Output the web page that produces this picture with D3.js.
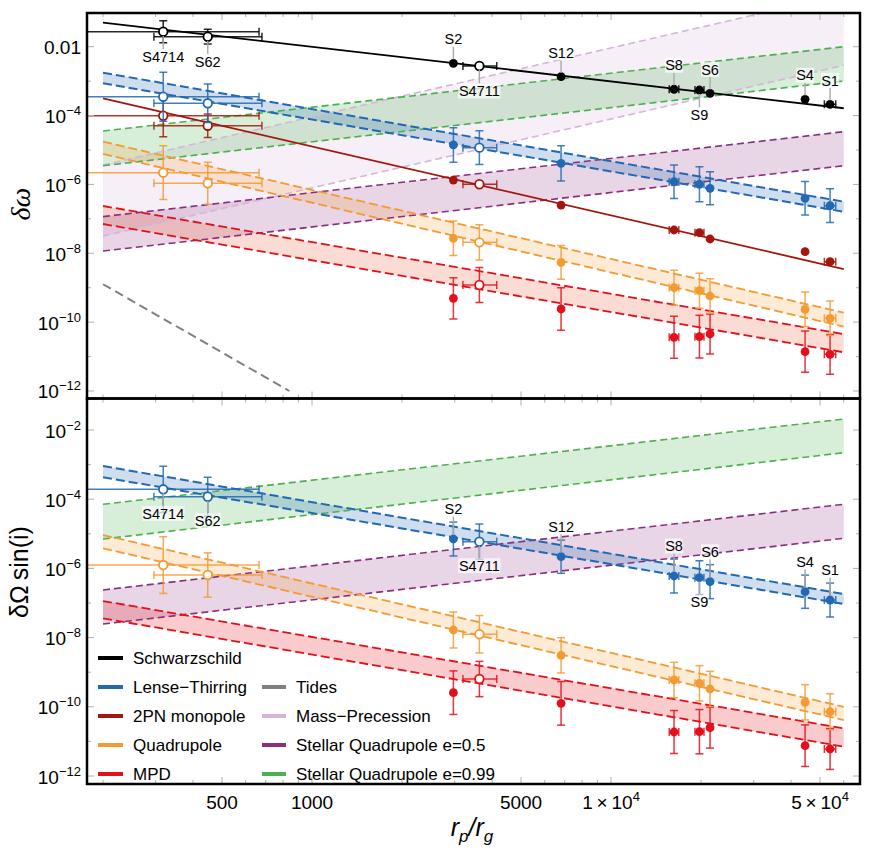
<!DOCTYPE html>
<html><head><meta charset="utf-8">
<script src="https://cdn.jsdelivr.net/npm/d3@7"></script>
<style>body{margin:0;background:#fff}svg{display:block;font-family:"Liberation Sans",Arial,sans-serif}</style>
</head><body><svg id="c" width="872" height="855"></svg>
<script>
// ---------------- DATA ----------------
const stars = ["S4714","S62","S2","S4711","S12","S8","S9","S6","S4","S1"];
const rp    = [318, 448, 2970, 3628, 6805, 16240, 19750, 21430, 44550, 54000];
const rpLo  = [100, 296, null, 3196, null, 15650, 19080, null, null, 51680];
const rpHi  = [665, 680, null, 4147, null, 16850, 20450, null, null, 56420];
const hollow = [true, true, false, true, false, false, false, false, false, false];
const labelBelow = [true, true, false, true, false, false, true, false, false, false];

// top panel (delta omega) points, error = half-width in dex
const schwTop    = [2.73e-2, 1.95e-2, 3.30e-3, 2.75e-3, 1.35e-3, 5.80e-4, 5.52e-4, 4.43e-4, 2.97e-4, 2.12e-4];
const schwTopErr = [0.32, 0.215, 0, 0, 0, 0, 0, 0, 0, 0];
const ltTop      = [3.53e-4, 2.27e-4, 1.40e-5, 1.17e-5, 4.10e-6, 1.20e-6, 1.01e-6, 7.71e-7, 3.95e-7, 2.41e-7];
const ltTopErr   = [0.71, 0.56, 0.50, 0.49, 0.51, 0.485, 0.51, 0.48, 0.485, 0.49];
const pn2Top     = [9.9e-5, 5.07e-5, 1.34e-6, 1.01e-6, 2.52e-7, 4.74e-8, 3.96e-8, 2.60e-8, 1.11e-8, 5.7e-9];
const pn2TopErr  = [0.61, 0.34, 0, 0, 0, 0, 0, 0, 0, 0];
const quadTop    = [2.19e-6, 1.08e-6, 2.72e-8, 2.08e-8, 5.47e-9, 1.0e-9, 8.18e-10, 5.74e-10, 2.36e-10, 1.29e-10];
const quadTopErr = [0.78, 0.61, 0.50, 0.51, 0.49, 0.51, 0.51, 0.50, 0.50, 0.50];
const mpdTop     = [null, null, 4.92e-10, 1.20e-9, 2.41e-10, 3.63e-11, 3.78e-11, 4.53e-11, 1.39e-11, 1.16e-11];
const mpdTopErr  = [0, 0, 0.60, 0.51, 0.62, 0.61, 0.62, 0.58, 0.60, 0.58];

// bottom panel (delta Omega sin i) points
const ltBot      = [1.93e-4, 1.18e-4, 7.08e-6, 5.92e-6, 2.18e-6, 6.03e-7, 5.38e-7, 4.13e-7, 2.12e-7, 1.22e-7];
const ltBotErr   = [0.67, 0.56, 0.49, 0.51, 0.48, 0.49, 0.49, 0.49, 0.48, 0.49];
const quadBot    = [1.25e-6, 6.44e-7, 1.66e-8, 1.25e-8, 3.08e-9, 5.96e-10, 4.78e-10, 3.27e-10, 1.35e-10, 7.2e-11];
const quadBotErr = [0.82, 0.64, 0.52, 0.54, 0.51, 0.51, 0.51, 0.51, 0.51, 0.52];
const mpdBot     = [null, null, 2.56e-10, 6.36e-10, 1.26e-10, 1.87e-11, 1.91e-11, 2.49e-11, 7.52e-12, 6.03e-12];
const mpdBotErr  = [0, 0, 0.63, 0.51, 0.63, 0.62, 0.64, 0.59, 0.60, 0.59];

// model lines / bands (values at r_p/r_g = bandX)
const bandX = [200, 60000];
const schwLine = [0.0498, 1.63e-4];
const pn2Line  = [3.17e-4, 3.49e-9];
const ltTopHi = [1.76e-3, 3.15e-7],   ltTopLo = [8.65e-4, 1.61e-7];
const quadTopHi = [1.74e-5, 1.88e-10], quadTopLo = [7.65e-6, 7.4e-11];
const mpdTopHi = [2.36e-7, 4.5e-11],  mpdTopLo = [7.08e-8, 1.33e-11];
const massPrecHi = [3.65e-6, 0.333],  massPrecLo = [3.16e-8, 2.88e-3];
const sq05TopHi = [1.16e-7, 3.4e-5],  sq05TopLo = [1.16e-8, 3.5e-6];
const sq99TopHi = [3.56e-5, 1.0e-2],  sq99TopLo = [3.5e-6, 1.01e-3];
const tidesX = [200, 840], tidesY = [1.26e-9, 1.0e-12];

const ltBotHi = [9.12e-4, 1.82e-7],   ltBotLo = [4.30e-4, 9.35e-8];
const sq99BotHi = [7.13e-5, 2.08e-2], sq99BotLo = [7.08e-6, 2.21e-3];
const quadBotHi = [9.23e-6, 1.0e-10], quadBotLo = [3.81e-6, 4.15e-11];
const mpdBotHi = [1.14e-7, 2.39e-11], mpdBotLo = [3.61e-8, 7.03e-12];
const sq05BotHi = [2.38e-7, 7.13e-5], sq05BotLo = [2.47e-8, 7.41e-6];

const xTickVals = [500, 1000, 5000, 10000, 50000];
const xTickText = [["500"], ["1000"], ["5000"], ["1\u2009\u00d7\u200910", "4"], ["5\u2009\u00d7\u200910", "4"]];
const legendNames1 = ["Schwarzschild", "Lense\u2212Thirring", "2PN monopole", "Quadrupole", "MPD"];
const legendNames2 = ["Tides", "Mass\u2212Precession", "Stellar Quadrupole e=0.5", "Stellar Quadrupole e=0.99"];

// ---------------- STYLE ----------------
const C = {black:"#000000", blue:"#2268b3", dred:"#a3160d", orange:"#f39a32", red:"#e3101b",
  purple:"#8c2e7e", green:"#4bb04d", lav:"#d6b5da", gray:"#808080"};
const legendColors1 = [C.black, C.blue, C.dred, C.orange, C.red];
const legendColors2 = [C.gray, C.lav, C.purple, C.green];

const L = 87, R = 860, T1 = 13, B1 = 398.5, T2 = 398.5, B2 = 784;
const svg = d3.select("#c");
const x = d3.scaleLog().domain([176.8, 68000]).range([L, R]);
const yTop = d3.scaleLog().domain([Math.pow(10,-12.218), Math.pow(10,-1.0212)]).range([B1, T1]);
const yBot = d3.scaleLog().domain([Math.pow(10,-12.231), Math.pow(10,-1.0896)]).range([B2, T2]);

const defs = svg.append("defs");
[["clipT",T1,B1],["clipB",T2,B2]].forEach(([id,t,b])=>{
  defs.append("clipPath").attr("id",id).append("rect").attr("x",L).attr("y",t).attr("width",R-L).attr("height",b-t);
});

function panel(clipId){ return svg.append("g").attr("clip-path",`url(#${clipId})`); }

function band(g, y, hi, lo, color, fillColor, op, dash, sw){
  const pts = bandX.map((v,i)=>({x:v, hi:hi[i], lo:lo[i]}));
  g.append("path").datum(pts)
    .attr("d", d3.area().x(d=>x(d.x)).y0(d=>y(d.lo)).y1(d=>y(d.hi)))
    .attr("fill", fillColor).attr("fill-opacity", op).attr("stroke","none");
  return ()=>{
    [hi,lo].forEach(arr=>{
      g.append("path").datum(bandX.map((v,i)=>[v,arr[i]]))
        .attr("d", d3.line().x(d=>x(d[0])).y(d=>y(d[1])))
        .attr("fill","none").attr("stroke",color).attr("stroke-width",sw).attr("stroke-dasharray",dash);
    });
  };
}
function solid(g, y, xs, ys, color, sw, dash){
  g.append("path").datum(xs.map((v,i)=>[v,ys[i]]))
    .attr("d", d3.line().x(d=>x(d[0])).y(d=>y(d[1])))
    .attr("fill","none").attr("stroke",color).attr("stroke-width",sw)
    .attr("stroke-dasharray", dash||null);
}
function series(g, y, vals, errs, color){
  const cap = 4;
  stars.forEach((s,i)=>{
    const v = vals[i]; if (v == null) return;
    const cx = x(rp[i]), cy = y(v);
    const eg = g.append("g").attr("stroke",color).attr("stroke-width",1.5).attr("stroke-opacity",0.85);
    if (errs[i] > 0){
      const y1 = y(v*Math.pow(10,errs[i])), y2 = y(v/Math.pow(10,errs[i]));
      eg.append("line").attr("x1",cx).attr("x2",cx).attr("y1",y1).attr("y2",y2);
      [y1,y2].forEach(yy=>eg.append("line").attr("x1",cx-cap).attr("x2",cx+cap).attr("y1",yy).attr("y2",yy));
    }
    if (rpLo[i] != null){
      const x1 = x(rpLo[i]), x2 = x(rpHi[i]);
      eg.append("line").attr("x1",x1).attr("x2",x2).attr("y1",cy).attr("y2",cy);
      [x1,x2].forEach(xx=>eg.append("line").attr("x1",xx).attr("x2",xx).attr("y1",cy-cap).attr("y2",cy+cap));
    }
  });
  stars.forEach((s,i)=>{
    const v = vals[i]; if (v == null) return;
    const c = g.append("circle").attr("cx",x(rp[i])).attr("cy",y(v));
    if (hollow[i]) c.attr("r",4.3).attr("fill","#fff").attr("stroke",color).attr("stroke-width",1.8);
    else c.attr("r",4.4).attr("fill",color);
  });
}
function labels(g, y, vals, upOff, downOff){
  stars.forEach((s,i)=>{
    const cx = x(rp[i]), cy = y(vals[i]);
    const below = labelBelow[i];
    const ly = below ? cy + downOff : cy + upOff;
    const tw = s.length*8.1 + 2, th = 15;
    g.append("line").attr("x1",cx).attr("x2",cx)
      .attr("y1", below ? cy+4 : cy-4).attr("y2", below ? ly-th/2 : ly+th/2)
      .attr("stroke","#aaa").attr("stroke-width",1.4);
    g.append("rect").attr("x",cx-tw/2).attr("y",ly-th/2).attr("width",tw).attr("height",th)
      .attr("fill","#fff").attr("fill-opacity",0.65);
    g.append("text").attr("x",cx).attr("y",ly+5.2).attr("text-anchor","middle")
      .attr("font-size",14.5).attr("fill","#000").text(s);
  });
}

// ---------------- TOP PANEL ----------------
const gT = panel("clipT");
const lT = [];
lT.push(band(gT, yTop, massPrecHi, massPrecLo, C.lav, C.lav, 0.22, "7,4", 1.6));
lT.push(band(gT, yTop, sq99TopHi, sq99TopLo, C.green, C.green, 0.22, "7,4", 1.6));
lT.push(band(gT, yTop, sq05TopHi, sq05TopLo, C.purple, C.purple, 0.2, "7,4", 1.6));
lT.push(band(gT, yTop, ltTopHi, ltTopLo, C.blue, C.blue, 0.22, "9,4", 2));
lT.push(band(gT, yTop, quadTopHi, quadTopLo, C.orange, C.orange, 0.2, "9,4", 1.8));
lT.push(band(gT, yTop, mpdTopHi, mpdTopLo, C.red, "#e8603c", 0.22, "9,4", 1.8));
lT.forEach(f=>f());
solid(gT, yTop, tidesX, tidesY, C.gray, 2, "9,5");
solid(gT, yTop, bandX, schwLine, C.black, 1.8);
solid(gT, yTop, bandX, pn2Line, C.dred, 1.8);
series(gT, yTop, mpdTop, mpdTopErr, C.red);
series(gT, yTop, quadTop, quadTopErr, C.orange);
series(gT, yTop, pn2Top, pn2TopErr, C.dred);
series(gT, yTop, ltTop, ltTopErr, C.blue);
series(gT, yTop, schwTop, schwTopErr, C.black);
labels(svg.append("g"), yTop, schwTop, -24, 25);

// ---------------- BOTTOM PANEL ----------------
const gB = panel("clipB");
const lB = [];
lB.push(band(gB, yBot, sq99BotHi, sq99BotLo, C.green, C.green, 0.22, "7,4", 1.6));
lB.push(band(gB, yBot, sq05BotHi, sq05BotLo, C.purple, C.purple, 0.2, "7,4", 1.6));
lB.push(band(gB, yBot, ltBotHi, ltBotLo, C.blue, C.blue, 0.22, "9,4", 2));
lB.push(band(gB, yBot, quadBotHi, quadBotLo, C.orange, C.orange, 0.2, "9,4", 1.8));
lB.push(band(gB, yBot, mpdBotHi, mpdBotLo, C.red, C.red, 0.22, "9,4", 1.8));
lB.forEach(f=>f());
series(gB, yBot, mpdBot, mpdBotErr, C.red);
series(gB, yBot, quadBot, quadBotErr, C.orange);
series(gB, yBot, ltBot, ltBotErr, C.blue);
labels(svg.append("g"), yBot, ltBot, -30, 24);

// ---------------- AXES / TICKS ----------------
const tickG = svg.append("g").attr("stroke","#b0b0b0").attr("stroke-width",1);
const xMinor = [];
[100,1000,10000].forEach(d=>{ for(let k=1;k<10;k++){ const v=d*k; if(v>=x.domain()[0] && v<=x.domain()[1]) xMinor.push(v);} });
[[T1,B1],[T2,B2]].forEach(([t,b])=>{
  xMinor.forEach(v=>{
    const len = xTickVals.includes(v) ? 7 : 4;
    const px = x(v);
    tickG.append("line").attr("x1",px).attr("x2",px).attr("y1",b).attr("y2",b-len);
    tickG.append("line").attr("x1",px).attr("x2",px).attr("y1",t).attr("y2",t+len);
  });
});
[[yTop],[yBot]].forEach(([y])=>{
  for(let e=-12;e<=-2;e++){
    const len = (e%2===0) ? 7 : 4;
    const py = y(Math.pow(10,e));
    tickG.append("line").attr("x1",L).attr("x2",L+len).attr("y1",py).attr("y2",py);
    tickG.append("line").attr("x1",R).attr("x2",R-len).attr("y1",py).attr("y2",py);
  }
});
function yLab(y, e, plainDecimal){
  const t = svg.append("text").attr("x",81).attr("y",y(Math.pow(10,e))+7.5)
    .attr("text-anchor","end").attr("font-size",19).attr("fill","#000");
  if (plainDecimal) { t.text("0.01"); return; }
  t.append("tspan").text("10");
  t.append("tspan").attr("dy",-8).attr("font-size",13).text("\u2212"+(-e));
}
[-2,-4,-6,-8,-10,-12].forEach(e=>yLab(yTop, e, e===-2));
[-2,-4,-6,-8,-10,-12].forEach(e=>yLab(yBot, e, false));
xTickVals.forEach((v,i)=>{
  const t = svg.append("text").attr("x",x(v)).attr("y",809).attr("text-anchor","middle")
    .attr("font-size",19).attr("fill","#000");
  t.append("tspan").text(xTickText[i][0]);
  if (xTickText[i][1]) t.append("tspan").attr("dy",-8).attr("font-size",13).text(xTickText[i][1]);
});

// frames
svg.append("rect").attr("x",L).attr("y",T1).attr("width",R-L).attr("height",B1-T1)
  .attr("fill","none").attr("stroke","#000").attr("stroke-width",2.5);
svg.append("rect").attr("x",L).attr("y",T2).attr("width",R-L).attr("height",B2-T2)
  .attr("fill","none").attr("stroke","#000").attr("stroke-width",2.5);

// axis titles
svg.append("text").attr("transform","translate(30,204) rotate(-90)").attr("text-anchor","middle")
  .attr("font-size",28).attr("font-style","italic").attr("font-family","'Liberation Serif','DejaVu Serif',serif").text("\u03b4\u03c9");
svg.append("text").attr("transform","translate(28,572) rotate(-90)").attr("text-anchor","middle")
  .attr("font-size",25).text("\u03b4\u03a9\u2009sin(i)");
const xt = svg.append("text").attr("x",472).attr("y",836).attr("text-anchor","middle")
  .attr("font-size",25).attr("font-style","italic");
xt.append("tspan").text("r");
xt.append("tspan").attr("dy",6).attr("font-size",17).text("p");
xt.append("tspan").attr("dy",-6).text("/r");
xt.append("tspan").attr("dy",6).attr("font-size",17).text("g");

// legend
const lg = svg.append("g");
legendNames1.forEach((n,i)=>{
  const yy = 658 + i*29;
  lg.append("line").attr("x1",98).attr("x2",123).attr("y1",yy).attr("y2",yy).attr("stroke",legendColors1[i]).attr("stroke-width",4);
  lg.append("text").attr("x",133).attr("y",yy+6).attr("font-size",17).text(n);
});
legendNames2.forEach((n,i)=>{
  const yy = 687 + i*29;
  lg.append("line").attr("x1",262).attr("x2",286).attr("y1",yy).attr("y2",yy).attr("stroke",legendColors2[i]).attr("stroke-width",4);
  lg.append("text").attr("x",296).attr("y",yy+6).attr("font-size",17).text(n);
});
</script></body></html>
